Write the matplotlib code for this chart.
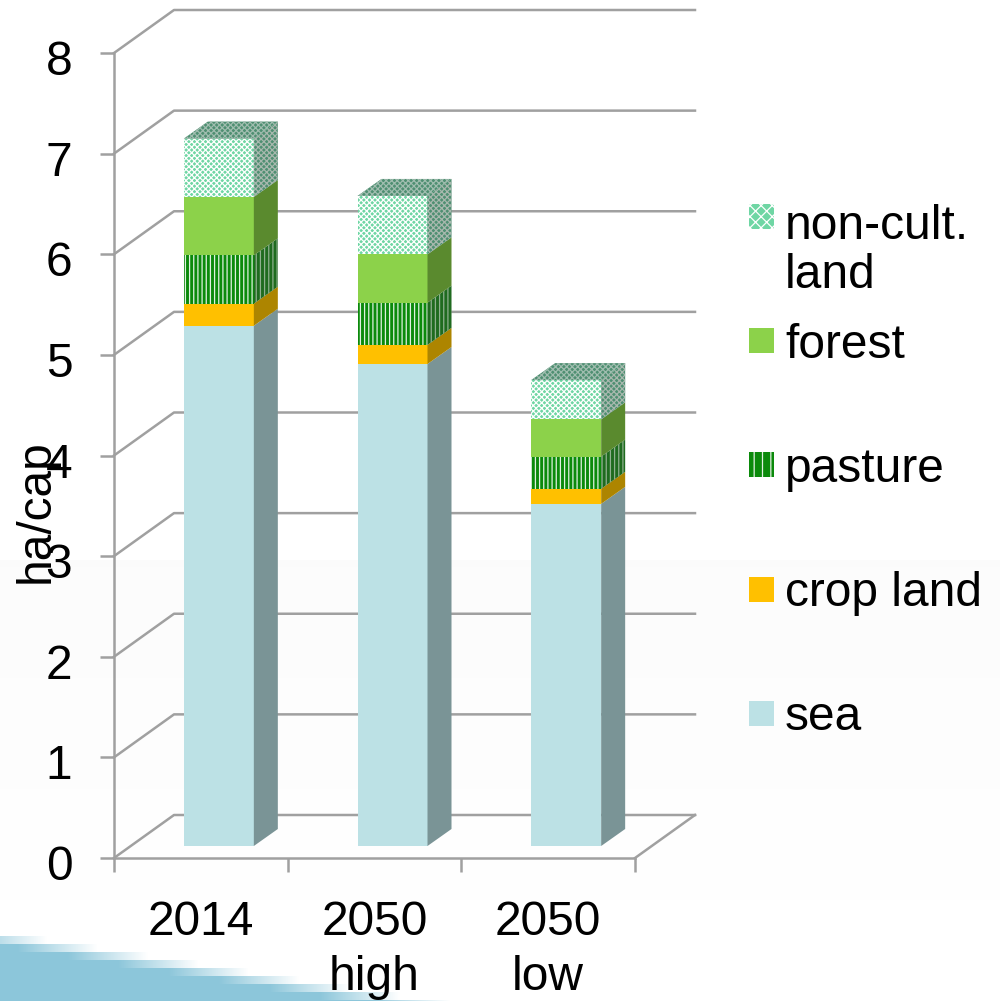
import numpy as np
from matplotlib import pyplot as plt
from matplotlib.patches import Polygon, Rectangle
from matplotlib.transforms import ScaledTranslation

plt.rcParams['font.family'] = ['Liberation Sans', 'DejaVu Sans']
plt.rcParams['hatch.linewidth'] = 0.9

# Data (ha/cap)
categories = ['2014', '2050\nhigh', '2050\nlow']
sea = [5.17, 4.79, 3.40]
crop_land = [0.22, 0.19, 0.15]
pasture = [0.48, 0.42, 0.32]
forest = [0.58, 0.48, 0.37]
non_cult = [0.58, 0.58, 0.39]
y_ticks = [0, 1, 2, 3, 4, 5, 6, 7, 8]

series = [sea, crop_land, pasture, forest, non_cult]
face_colors = ['#BCE1E5', '#FFC000', '#0B8A0B', '#8CD24A', '#6FD6A4']
side_colors = ['#7A9496', '#AD8500', '#1F6B1F', '#5A8A2E', '#4F8F72']
hatches = [None, None, '||||', None, 'xxxxxx']
hatch_colors = [None, None, '#E0F0E0', None, '#FFFFFF']
side_hatch_colors = [None, None, '#8FB08F', None, '#A8B8AE']

legend_names = ['non-cult.\nland', 'forest', 'pasture', 'crop land', 'sea']
legend_rows = [216, 340, 464, 589, 713]
legend_order = [4, 3, 2, 1, 0]

W, H = 1000, 1001
fig = plt.figure(figsize=(W / 100, H / 100), dpi=100)

# Slide background: faint grey fade and the blue swoosh at bottom left
bg = fig.add_axes([0, 0, 1, 1], zorder=0)
yy, xx = np.mgrid[0:H, 0:W]
shade = np.where(yy < 560, 0.0, np.clip((900 - yy) / 340, 0, 1) * 0.012)
alpha = np.clip(((yy // 8 * 8 - 935) * 6.3 + 40 - xx) / 80, 0, 1)
alpha = np.where(yy < 935, 0, alpha)
img = np.ones((H, W, 3)) * (1 - shade)[..., None]
blue = np.array([0x8C, 0xC6, 0xDA]) / 255
img = img * (1 - alpha[..., None]) + blue * alpha[..., None]
bg.imshow(img, extent=[0, W, H, 0], aspect='auto', interpolation='nearest')
bg.set_xlim(0, W)
bg.set_ylim(H, 0)
bg.axis('off')

# Chart axes, the front plane of the 3D box
left, right, top, bottom = 114, 635, 53, 858
ax = fig.add_axes([left / W, 1 - bottom / H, (right - left) / W, (bottom - top) / H], zorder=1)
ax.patch.set_alpha(0)
ax.set_xlim(0, 3)
ax.set_ylim(0, 8)

px_x = 3 / (right - left)
px_y = 8 / (bottom - top)
wall_dx, wall_dy = 60 * px_x, 43 * px_y
bar_shift_x, bar_shift_y = 18 * px_x, 12 * px_y
depth_x, depth_y = 24 * px_x, 17 * px_y
bar_width = 70 * px_x
grid_color = '#A0A0A0'

for tick in y_ticks:
    ax.plot([0, wall_dx, 3 + wall_dx], [tick, tick + wall_dy, tick + wall_dy],
            color=grid_color, lw=1.8, clip_on=False, zorder=1)
ax.plot([3, 3 + wall_dx], [0, wall_dy], color=grid_color, lw=1.8, clip_on=False, zorder=1)

# Stacked bars
positions = np.arange(3) + 0.5 + bar_shift_x
base = np.zeros(3) + bar_shift_y
for s, values in enumerate(series):
    values = np.array(values)
    ax.bar(positions, values, bar_width, bottom=base, color=face_colors[s], linewidth=0,
           hatch=hatches[s], edgecolor=hatch_colors[s] or face_colors[s], zorder=3, clip_on=False)
    for i in range(3):
        xr = positions[i] + bar_width / 2
        y0, y1 = base[i], base[i] + values[i]
        side = Polygon([(xr, y0), (xr + depth_x, y0 + depth_y), (xr + depth_x, y1 + depth_y), (xr, y1)],
                       facecolor=side_colors[s], edgecolor=side_hatch_colors[s] or side_colors[s],
                       hatch=hatches[s], linewidth=0, zorder=3, clip_on=False)
        ax.add_patch(side)
        if s == len(series) - 1:
            xl = positions[i] - bar_width / 2
            cap = Polygon([(xl, y1), (xr, y1), (xr + depth_x, y1 + depth_y), (xl + depth_x, y1 + depth_y)],
                          facecolor='#4F8F72', edgecolor='#A0BDAF', hatch='xxxxxx',
                          linewidth=0, zorder=3, clip_on=False)
            ax.add_patch(cap)
    base = base + values

# Axes, ticks and labels
for name in ['top', 'right']:
    ax.spines[name].set_visible(False)
for name in ['left', 'bottom']:
    ax.spines[name].set_color(grid_color)
    ax.spines[name].set_linewidth(1.8)
    ax.spines[name].set_zorder(4)
ax.spines['left'].set_bounds(0, 8)

ax.set_yticks(y_ticks)
ax.tick_params(axis='y', length=10, width=1.8, color=grid_color, labelsize=34.5, pad=20)
offset = ScaledTranslation(0, -4.5 / 100, fig.dpi_scale_trans)
for label in ax.get_yticklabels():
    label.set_transform(label.get_transform() + offset)
ax.set_xticks([0, 1, 2, 3])
ax.set_xticklabels([])
ax.tick_params(axis='x', which='major', length=10, width=1.8, color=grid_color)
ax.set_xticks([0.5, 1.5, 2.5], categories, minor=True, fontsize=34.5, linespacing=1.28)
ax.tick_params(axis='x', which='minor', length=0, pad=30.5)
ax.set_ylabel('ha/cap', fontsize=34.5)
ax.yaxis.set_label_coords((59 - left) / (right - left), (bottom - 511) / (bottom - top))

# Legend, drawn by hand because the rows are spaced unevenly
for row, idx in zip(legend_rows, legend_order):
    bg.add_patch(Rectangle((749, row - 12), 25, 25, facecolor=face_colors[idx], linewidth=0,
                           hatch='xxx' if idx == 4 else ('||' if idx == 2 else None),
                           edgecolor=hatch_colors[idx] or face_colors[idx], zorder=5))
    bg.text(785, row + 5 if idx != 4 else row + 35, legend_names[len(series) - 1 - idx],
            fontsize=34.5, va='center', ha='left', linespacing=1.1, zorder=5)

fig.savefig('out.png', dpi=100)
